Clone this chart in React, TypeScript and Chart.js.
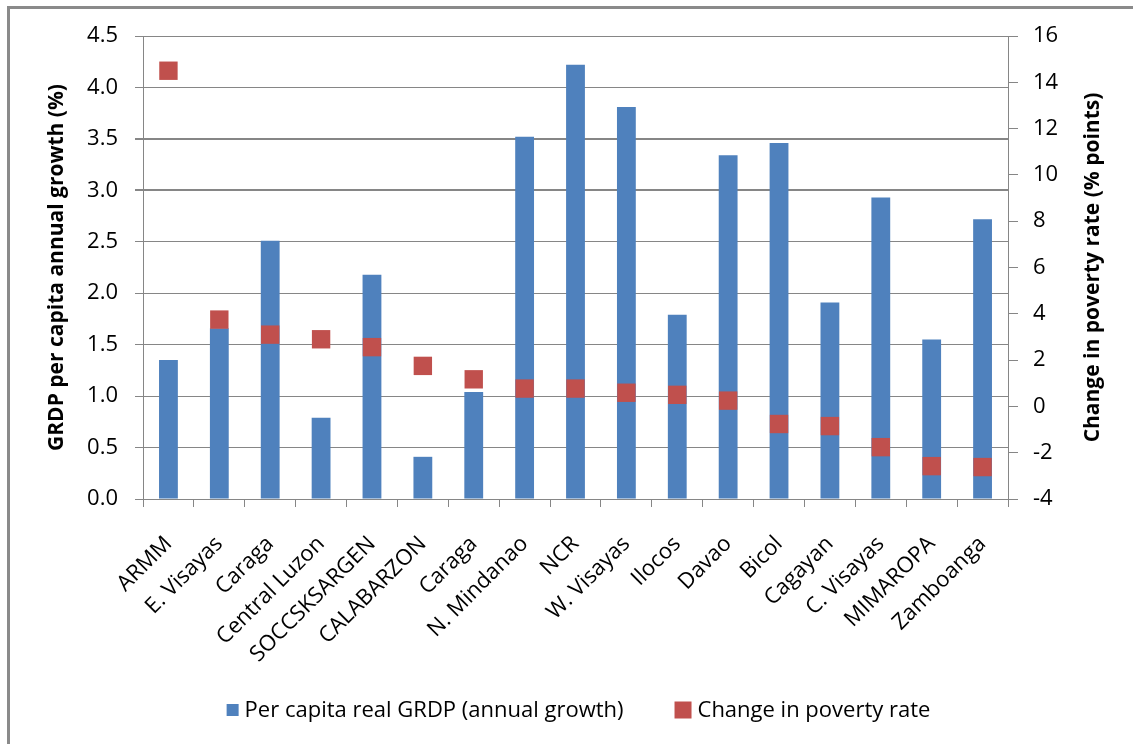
import React, { useEffect, useRef } from "react";
import { Chart, registerables } from "chart.js";

Chart.register(...registerables);

const categories = [
  "ARMM", "E. Visayas", "Caraga", "Central Luzon", "SOCCSKSARGEN", "CALABARZON", "Caraga",
  "N. Mindanao", "NCR", "W. Visayas", "Ilocos", "Davao", "Bicol", "Cagayan", "C. Visayas",
  "MIMAROPA", "Zamboanga",
];
const grdpGrowth = [1.35, 1.66, 2.51, 0.79, 2.18, 0.41, 1.04, 3.52, 4.22, 3.81, 1.79, 3.34, 3.46, 1.91, 2.93, 1.55, 2.72];
const povertyChange = [14.5, 3.75, 3.1, 2.9, 2.56, 1.75, 1.17, 0.77, 0.77, 0.59, 0.5, 0.25, -0.76, -0.85, -1.76, -2.58, -2.62];

const seriesNames = ["Per capita real GRDP (annual growth)", "Change in poverty rate"];
const leftAxisTitle = "GRDP per capita annual growth (%)";
const rightAxisTitle = "Change in poverty rate (% points)";
const leftRange = [0, 4.5, 0.5];
const rightRange = [-4, 16, 2];

const BLUE = "#4F81BD";
const RED = "#C0504D";
const GRID = "#868686";
const FONT = "Open Sans";

const rightTitlePlugin = {
  id: "rightTitle",
  afterDraw(chart: any) {
    const s = chart.scales.y1;
    if (!s) return;
    const ctx = chart.ctx;
    ctx.save();
    ctx.translate(s.right - 40, (s.top + s.bottom) / 2);
    ctx.rotate(-Math.PI / 2);
    ctx.textAlign = "center";
    ctx.textBaseline = "middle";
    ctx.fillStyle = "#000";
    ctx.font = `bold 21px "${FONT}"`;
    ctx.fillText(rightAxisTitle, 0, 0);
    ctx.restore();
  },
};

const legendPlugin = {
  id: "bottomLegend",
  afterDraw(chart: any) {
    const ctx = chart.ctx;
    const area = chart.chartArea;
    const xs = chart.scales.x;
    const items = chart.data.datasets.map((d: any, i: number) => ({
      text: d.label,
      color: i === 0 ? d.backgroundColor : d.pointBackgroundColor,
      box: i === 0 ? 12 : 17,
    }));
    const textGap = 6;
    const itemGap = 51;
    ctx.save();
    ctx.font = `22px "${FONT}"`;
    ctx.textBaseline = "middle";
    ctx.textAlign = "left";
    const widths = items.map((it: any) => it.box + textGap + ctx.measureText(it.text).width);
    const total = widths.reduce((a: number, b: number) => a + b, 0) + itemGap * (items.length - 1);
    let cx = (area.left + area.right) / 2 - total / 2 + 3;
    const cy = xs.bottom + 46;
    items.forEach((it: any, i: number) => {
      ctx.fillStyle = it.color;
      ctx.fillRect(cx, cy - it.box / 2, it.box, it.box);
      ctx.fillStyle = "#000";
      ctx.fillText(it.text, cx + it.box + textGap, cy + 1);
      cx += widths[i] + itemGap;
    });
    ctx.restore();
  },
};

export default function App() {
  const ref = useRef<HTMLCanvasElement | null>(null);

  useEffect(() => {
    if (!ref.current) return;
    const chart = new Chart(ref.current, {
      type: "bar",
      data: {
        labels: categories,
        datasets: [
          {
            type: "bar",
            label: seriesNames[0],
            data: grdpGrowth,
            backgroundColor: BLUE,
            borderWidth: 0,
            yAxisID: "y",
            categoryPercentage: 1,
            barPercentage: 0.37,
            order: 1,
          } as any,
          {
            type: "line",
            label: seriesNames[1],
            data: povertyChange,
            showLine: false,
            pointStyle: "rect",
            pointRadius: 13,
            pointBackgroundColor: RED,
            pointBorderWidth: 0,
            backgroundColor: RED,
            borderColor: RED,
            borderWidth: 0,
            yAxisID: "y1",
            order: 0,
          } as any,
        ],
      },
      plugins: [rightTitlePlugin, legendPlugin],
      options: {
        responsive: false,
        animation: false,
        events: [],
        layout: { padding: { top: 36, left: 32, right: 0, bottom: 80 } },
        plugins: {
          tooltip: { enabled: false },
          legend: { display: false },
        },
        scales: {
          x: {
            grid: { display: true, drawOnChartArea: false, drawTicks: true, tickLength: 8, color: GRID, offset: true },
            border: { display: true, color: GRID, width: 1 },
            ticks: {
              autoSkip: false,
              maxRotation: 45,
              minRotation: 45,
              padding: 24,
              color: "#000",
              font: { family: FONT, size: 22 },
            },
            afterFit: (s: any) => { s.height = 165; },
          },
          y: {
            position: "left",
            min: leftRange[0],
            max: leftRange[1],
            grid: {
              color: GRID,
              tickLength: 8,
              lineWidth: (c: any) => (c.tick && (c.tick.value === 3 || c.tick.value === 3.5) ? 2 : 1),
            },
            border: { display: true, color: GRID, width: 1 },
            ticks: {
              stepSize: leftRange[2],
              padding: 17,
              color: "#000",
              font: { family: FONT, size: 22 },
              callback: (v: any) => Number(v).toFixed(1),
            },
            title: {
              display: true,
              text: leftAxisTitle,
              color: "#000",
              font: { family: FONT, size: 21, weight: "bold" },
              padding: { top: 12, bottom: 0 },
            },
            afterFit: (s: any) => { s.width = 111; },
          },
          y1: {
            position: "right",
            min: rightRange[0],
            max: rightRange[1],
            grid: { drawOnChartArea: false, color: GRID, tickLength: 10 },
            border: { display: true, color: GRID, width: 1 },
            ticks: {
              stepSize: rightRange[2],
              padding: 15,
              color: "#000",
              font: { family: FONT, size: 22 },
            },
            title: { display: false },
            afterFit: (s: any) => { s.width = 125; },
          },
        },
      },
    });
    return () => chart.destroy();
  }, []);

  return (
    <div style={{ position: "fixed", left: 0, top: 0, width: 1133, height: 744, overflow: "hidden", background: "#fff" }}>
      <div
        style={{
          position: "absolute",
          left: 7,
          top: 6,
          width: 1300,
          height: 900,
          border: "3px solid #8a8a8a",
          boxSizing: "border-box",
        }}
      />
      <canvas
        ref={ref}
        width={1133}
        height={744}
        style={{ position: "absolute", left: 0, top: 0, width: 1133, height: 744 }}
      />
    </div>
  );
}
